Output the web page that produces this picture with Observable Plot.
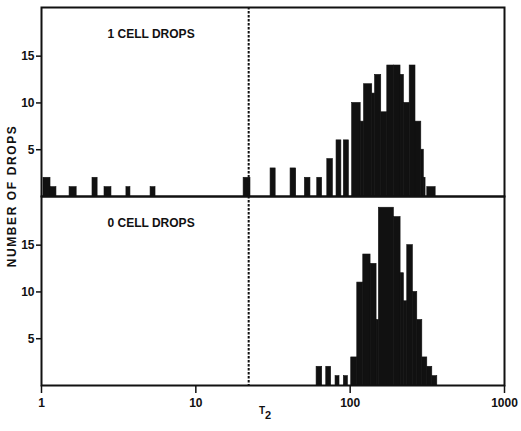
<!DOCTYPE html>
<html><head><meta charset="utf-8">
<script src="https://cdn.jsdelivr.net/npm/d3@7"></script>
<script src="https://cdn.jsdelivr.net/npm/@observablehq/plot@0.6"></script>
<style>body{margin:0;background:#fff} svg{display:block}</style>
</head><body><div id="chart"></div>
<script>
// Panels
const panels = ["1 CELL DROPS", "0 CELL DROPS"];

// 1 CELL DROPS: bin edges in T2 and counts
const oneLo = [1.03, 1.144, 1.52, 2.14, 2.56, 3.55, 5.09, 20.4, 30.5, 41.1, 50.9, 61.2, 71.1, 81.6, 91.0, 103, 117, 123, 139, 145, 159, 174, 192, 212, 223, 243, 265, 289, 300, 316];
const oneHi = [1.144, 1.25, 1.69, 2.31, 2.84, 3.77, 5.48, 22.6, 32.9, 44.7, 55.3, 65.8, 77.3, 87.7, 98.1, 117, 123, 139, 145, 159, 174, 192, 212, 223, 243, 265, 289, 300, 308, 358];
const oneN  = [2, 1, 1, 2, 1, 1, 1, 2, 3, 3, 2, 2, 4, 6, 6, 10, 8, 12, 11, 13, 9, 14, 14, 13, 10, 14, 8, 5, 2, 1];

// 0 CELL DROPS
const zeroLo = [60.6, 70.0, 80.4, 91.0, 101.6, 111.2, 121.6, 135.6, 148.3, 153.5, 192, 212.2, 222.9, 234.4, 254.9, 272.2, 293.4, 316, 340.5];
const zeroHi = [65.9, 75.3, 85.3, 96.7, 111.2, 121.6, 135.6, 148.3, 153.5, 192, 212.2, 222.9, 234.4, 254.9, 272.2, 293.4, 316, 340.5, 366.9];
const zeroN  = [2, 2, 1, 1, 3, 11, 14, 13, 7, 19, 18, 12, 9, 15, 10, 7, 3, 2, 1];

// threshold (dashed line) and tick values
const threshold = [22];
const xTicks = [1, 10, 100, 1000];
const yTicks = [5, 10, 15];
const yLabel = "NUMBER OF DROPS";
const xLabelMain = "T";
const xLabelSub = "2";

const bars = [
  ...oneLo.map((lo, i) => ({panel: panels[0], lo, hi: oneHi[i], n: oneN[i]})),
  ...zeroLo.map((lo, i) => ({panel: panels[1], lo, hi: zeroHi[i], n: zeroN[i]}))
];

const font = "'Liberation Sans', Arial, sans-serif";
const W = 521, H = 431, mL = 41, mR = 17, mT = 7, mB = 46;

const chart = Plot.plot({
  width: W, height: H,
  marginLeft: mL, marginRight: mR, marginTop: mT, marginBottom: mB,
  style: {fontFamily: font, fontWeight: "bold", fontSize: "12px", color: "#111", background: "white"},
  x: {type: "log", domain: [1, 1000]},
  y: {domain: [0, 20.2]},
  fy: {domain: panels, padding: 0, axis: null},
  marks: [
    Plot.rectY(bars, {x1: "lo", x2: "hi", y: "n", fy: "panel", fill: "#111", stroke: "#111", strokeWidth: 0.6, inset: 0}),
    Plot.ruleX(threshold, {stroke: "#111", strokeWidth: 2, strokeDasharray: "2.5,1.5"}),
    Plot.frame({stroke: "#111", strokeWidth: 2}),
    Plot.axisY({ticks: yTicks, tickSize: 5, tickPadding: 2, label: null, tickFormat: d => String(d), strokeWidth: 1.5, fontSize: 12}),
    Plot.axisX({ticks: xTicks, tickSize: 8, tickPadding: 5, label: null, tickFormat: d => String(d), strokeWidth: 1.5, fontSize: 12}),
    Plot.text(panels, {fy: d => d, text: d => d, frameAnchor: "top-left", textAnchor: "start", lineAnchor: "top", dx: 66, dy: 22, fontSize: 12, fontWeight: "bold", ariaLabel: "panel-title"})
  ]
});

const svg = d3.select(chart);
svg.selectAll("g[aria-label='panel-title'] text").attr("letter-spacing", "1.2px");

// y-axis title
svg.append("text")
  .attr("transform", `translate(13,${(mT + (H - mB)) / 2}) rotate(-90)`)
  .attr("text-anchor", "middle")
  .attr("dominant-baseline", "middle")
  .attr("font-family", font).attr("font-weight", "bold").attr("font-size", 12)
  .attr("letter-spacing", "1.6px")
  .attr("fill", "#111")
  .text(yLabel);

// x-axis title T2
const xt = svg.append("text")
  .attr("x", 265).attr("y", 414)
  .attr("text-anchor", "middle")
  .attr("font-family", font).attr("font-weight", "bold").attr("font-size", 10)
  .attr("fill", "#111");
xt.append("tspan").text(xLabelMain);
xt.append("tspan").attr("dy", 5).attr("font-size", 11).text(xLabelSub);

document.getElementById("chart").appendChild(chart);
</script>
</body></html>
